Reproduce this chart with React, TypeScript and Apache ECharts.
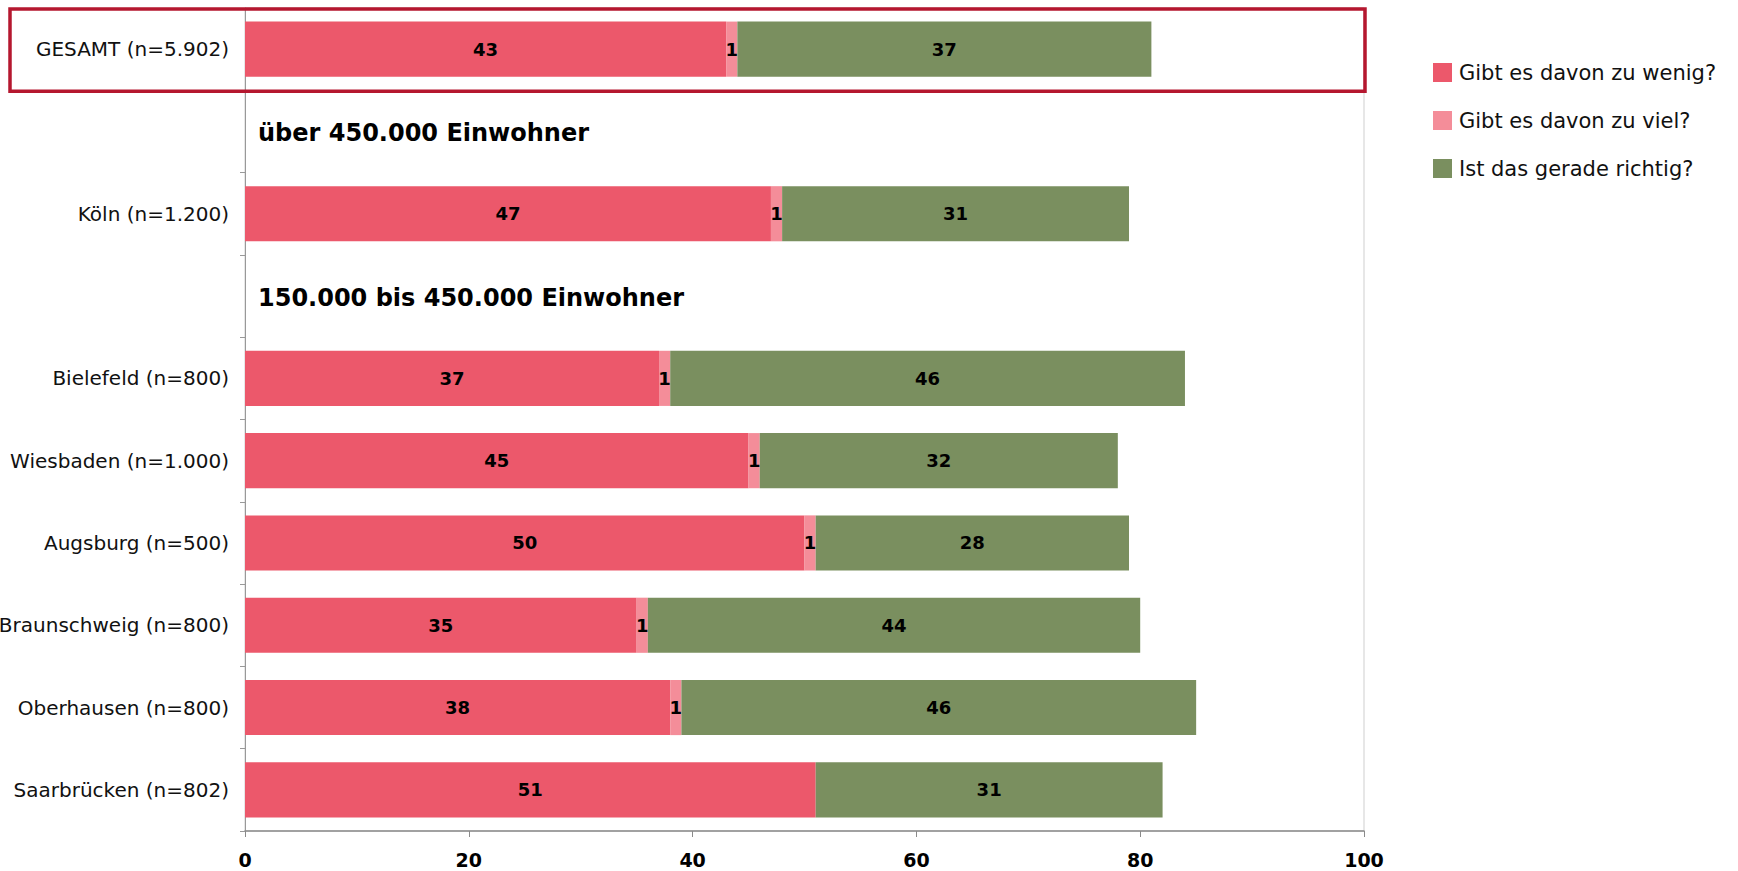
import React, { useEffect, useRef } from "react";
import * as echarts from "echarts";

// Rows of the chart (top to bottom); "hdr" rows hold the group headings.
const categories = [
  "GESAMT (n=5.902)",
  "hdr1",
  "Köln (n=1.200)",
  "hdr2",
  "Bielefeld (n=800)",
  "Wiesbaden (n=1.000)",
  "Augsburg (n=500)",
  "Braunschweig (n=800)",
  "Oberhausen (n=800)",
  "Saarbrücken (n=802)",
];

const headers: [number, string][] = [
  [1, "über 450.000 Einwohner"],
  [3, "150.000 bis 450.000 Einwohner"],
];

const seriesNames = [
  "Gibt es davon zu wenig?",
  "Gibt es davon zu viel?",
  "Ist das gerade richtig?",
];

const zuWenig = [43, null, 47, null, 37, 45, 50, 35, 38, 51];
const zuViel = [1, null, 1, null, 1, 1, 1, 1, 1, 0];
const richtig = [37, null, 31, null, 46, 32, 28, 44, 46, 31];

const colors = ["#EC586B", "#F48D99", "#7A8F5F"];
const xTicks = { min: 0, max: 100, interval: 20 };

const FONT = "DejaVu Sans";

export default function App() {
  const ref = useRef<HTMLDivElement>(null);

  useEffect(() => {
    if (!ref.current) return;
    const chart = echarts.init(ref.current, undefined, { renderer: "svg" });

    const barLabel = {
      show: true,
      position: "inside",
      color: "#000",
      fontWeight: "bold",
      fontSize: 18,
      fontFamily: FONT,
      formatter: (p: any) => (p.value ? String(p.value) : ""),
    };

    const values = [zuWenig, zuViel, richtig];

    chart.setOption({
      animation: false,
      backgroundColor: "#fff",
      textStyle: { fontFamily: FONT },
      legend: {
        orient: "vertical",
        left: 1428,
        top: 57,
        itemWidth: 19,
        itemHeight: 19,
        itemGap: 27,
        icon: "rect",
        data: seriesNames,
        textStyle: { fontSize: 21, color: "#111", fontFamily: FONT, padding: [0, 0, 0, 2] },
      },
      grid: {
        left: 245,
        right: 374,
        top: 8,
        bottom: 40,
        outerBoundsMode: "none",
        containLabel: false,
        show: true,
        borderColor: "#cfcfcf",
        borderWidth: 1,
      },
      xAxis: {
        type: "value",
        min: xTicks.min,
        max: xTicks.max,
        interval: xTicks.interval,
        splitLine: { show: false },
        axisLine: { show: true, lineStyle: { color: "#8a8a8a", width: 1.5 } },
        axisTick: { show: true, length: 6, lineStyle: { color: "#8a8a8a" } },
        axisLabel: {
          color: "#000",
          fontWeight: "bold",
          fontSize: 19,
          fontFamily: FONT,
          margin: 19,
        },
      },
      yAxis: {
        type: "category",
        inverse: true,
        data: categories,
        axisLine: { show: true, lineStyle: { color: "#999" } },
        axisTick: { show: true, length: 5, lineStyle: { color: "#999" } },
        axisLabel: {
          color: "#111",
          fontSize: 20,
          fontFamily: FONT,
          margin: 16,
          formatter: (v: string) => (v.startsWith("hdr") ? "" : v),
        },
      },
      series: [
        ...seriesNames.map((name, i) => ({
          name,
          type: "bar",
          stack: "total",
          barWidth: "67%",
          itemStyle: { color: colors[i] },
          label: barLabel,
          data: values[i],
        })),
        {
          name: "headings",
          type: "scatter",
          symbolSize: 0,
          silent: true,
          itemStyle: { color: "#000", opacity: 1 },
          data: headers.map(([row, text]) => [0, row, text]),
          label: {
            show: true,
            position: "right",
            distance: 13,
            color: "#000",
            opacity: 1,
            fontWeight: "bold",
            fontSize: 24,
            fontFamily: FONT,
            offset: [0, 2],
            formatter: (p: any) => p.data[2],
          },
        },
      ],
    });

    // Frame around the overall (GESAMT) row, derived from the axis scales.
    const right = chart.convertToPixel({ xAxisIndex: 0 }, xTicks.max) as number;
    const c0 = chart.convertToPixel({ yAxisIndex: 0 }, 0) as number;
    const c1 = chart.convertToPixel({ yAxisIndex: 0 }, 1) as number;
    const band = c1 - c0;
    chart.setOption({
      graphic: [
        {
          type: "rect",
          silent: true,
          z: 100,
          shape: { x: 10, y: c0 - band / 2 + 1, width: right + 1 - 10, height: band },
          style: { fill: "none", stroke: "#B5172F", lineWidth: 3.5 },
        },
      ],
    });

    return () => chart.dispose();
  }, []);

  return (
    <div
      ref={ref}
      style={{ position: "fixed", left: 0, top: 0, width: 1738, height: 871 }}
    />
  );
}
